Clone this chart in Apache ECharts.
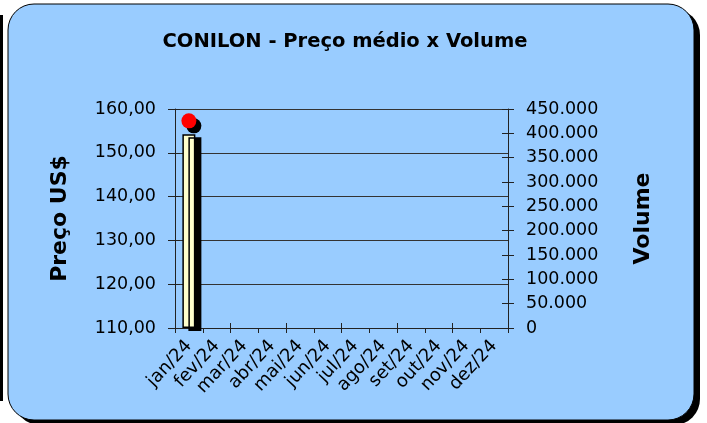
<!DOCTYPE html>
<html>
<head>
<meta charset="utf-8">
<script src="https://cdn.jsdelivr.net/npm/echarts@6/dist/echarts.min.js"></script>
<style>
html,body{margin:0;padding:0;background:#fff;}
#chart{width:707px;height:423px;}
</style>
</head>
<body>
<div id="chart"></div>
<script>
const categories = ['jan/24','fev/24','mar/24','abr/24','mai/24','jun/24','jul/24','ago/24','set/24','out/24','nov/24','dez/24'];
const volume = [398000, null, null, null, null, null, null, null, null, null, null, null];
const price = [157.3, null, null, null, null, null, null, null, null, null, null, null];
const priceAxis = {min: 110, max: 160, interval: 10};
const volumeAxis = {min: 0, max: 450000, interval: 50000};
const titleText = 'CONILON - Preço médio x Volume';
const leftName = 'Preço US$';
const rightName = 'Volume';

const FONT = 'DejaVu Sans';
const chart = echarts.init(document.getElementById('chart'), null, {renderer: 'canvas'});

function fmtPrice(v){ return v.toFixed(2).replace('.', ','); }
function fmtVol(v){ return String(Math.round(v)).replace(/\B(?=(\d{3})+(?!\d))/g, '.'); }

const lineCol = '#222';
const option = {
  backgroundColor: '#fff',
  animation: false,
  graphic: [
    {type: 'rect', z: -10, shape: {x: 0, y: 15, width: 3, height: 386}, style: {fill: '#000'}},
    {type: 'rect', z: -10, shape: {x: 14, y: 9, width: 686, height: 416, r: 26}, style: {fill: '#000'}},
    {type: 'rect', z: -9, shape: {x: 8, y: 4, width: 686, height: 416, r: 26}, style: {fill: '#99CCFF', stroke: '#000', lineWidth: 1}}
  ],
  title: {
    text: titleText,
    left: 340, top: 27, textAlign: 'center',
    textStyle: {fontFamily: FONT, fontWeight: 'bold', fontSize: 19.5, color: '#000'}
  },
  grid: {left: 175, right: 199, top: 109, bottom: 95, containLabel: false},
  xAxis: [
    {
      type: 'category', data: categories, position: 'bottom',
      axisLine: {show: true, lineStyle: {color: lineCol, width: 1}},
      axisTick: {show: true, inside: false, length: 5, lineStyle: {color: lineCol}},
      axisLabel: {rotate: 47, margin: 15, fontFamily: FONT, fontSize: 18, color: '#000', interval: 0},
      splitLine: {show: false}
    },
    {
      type: 'category', data: categories, position: 'bottom',
      axisLine: {show: false},
      axisTick: {show: true, inside: true, length: 5, lineStyle: {color: lineCol}},
      axisLabel: {show: false}, splitLine: {show: false}
    }
  ],
  yAxis: [
    {
      type: 'value', position: 'left', min: priceAxis.min, max: priceAxis.max, interval: priceAxis.interval,
      name: leftName, nameLocation: 'middle', nameRotate: 90, nameGap: 104,
      nameTextStyle: {fontFamily: FONT, fontWeight: 'bold', fontSize: 22, color: '#000'},
      axisLine: {show: true, lineStyle: {color: lineCol, width: 1}},
      axisTick: {show: true, inside: false, length: 7, lineStyle: {color: lineCol}},
      axisLabel: {margin: 19, formatter: fmtPrice, fontFamily: FONT, fontSize: 17.5, color: '#000'},
      splitLine: {show: true, lineStyle: {color: '#333', width: 1}}
    },
    {
      type: 'value', position: 'right', min: volumeAxis.min, max: volumeAxis.max, interval: volumeAxis.interval,
      name: rightName, nameLocation: 'middle', nameRotate: 90, nameGap: 124,
      nameTextStyle: {fontFamily: FONT, fontWeight: 'bold', fontSize: 22, color: '#000'},
      axisLine: {show: true, lineStyle: {color: lineCol, width: 1}},
      axisTick: {show: true, inside: false, length: 6, lineStyle: {color: lineCol}},
      axisLabel: {margin: 18, formatter: fmtVol, fontFamily: FONT, fontSize: 17.5, color: '#000'},
      splitLine: {show: false}
    },
    {
      type: 'value', position: 'left', min: priceAxis.min, max: priceAxis.max, interval: priceAxis.interval,
      axisLine: {show: false},
      axisTick: {show: true, inside: true, length: 5, lineStyle: {color: lineCol}},
      axisLabel: {show: false}, splitLine: {show: false}
    },
    {
      type: 'value', position: 'right', min: volumeAxis.min, max: volumeAxis.max, interval: volumeAxis.interval,
      axisLine: {show: false},
      axisTick: {show: true, inside: true, length: 6, lineStyle: {color: lineCol}},
      axisLabel: {show: false}, splitLine: {show: false}
    }
  ],
  series: [
    {
      name: 'Volume', type: 'bar', xAxisIndex: 0, yAxisIndex: 1, data: volume, barWidth: 13,
      itemStyle: {color: '#FFFFCC', borderColor: '#000', borderWidth: 1.5,
        shadowColor: '#000', shadowBlur: 0, shadowOffsetX: 6, shadowOffsetY: 3}
    },
    {
      name: 'Preço', type: 'scatter', xAxisIndex: 0, yAxisIndex: 0, data: price, symbol: 'circle', symbolSize: 15,
      itemStyle: {color: '#FF0000', opacity: 1, shadowColor: '#000', shadowBlur: 0, shadowOffsetX: 5, shadowOffsetY: 5}
    }
  ]
};
chart.setOption(option);
</script>
</body>
</html>
